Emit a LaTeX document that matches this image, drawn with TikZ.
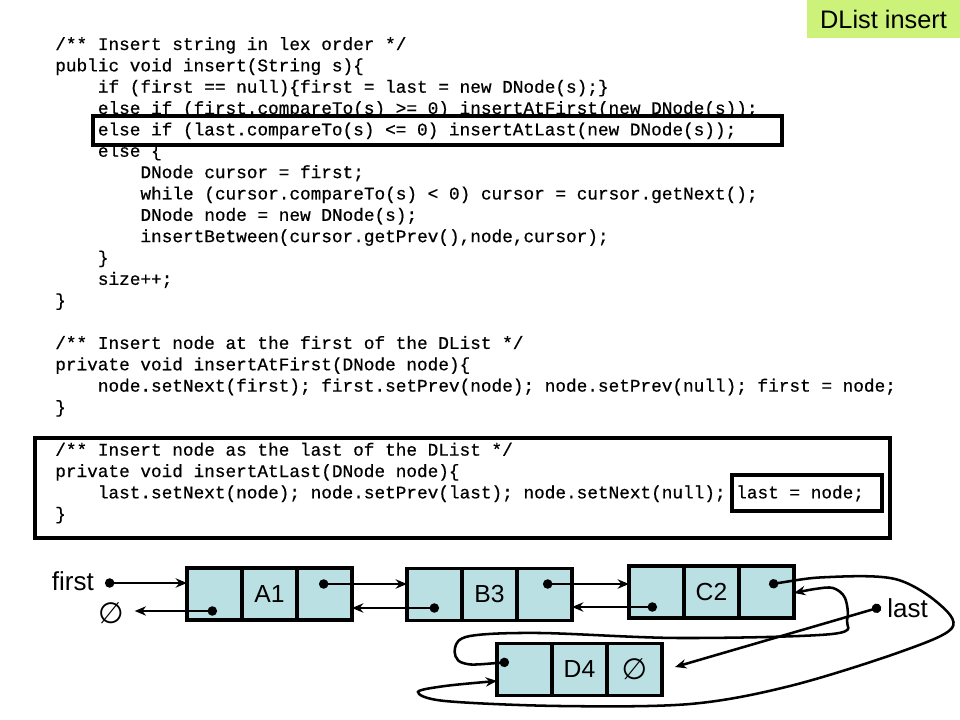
\documentclass[tikz,border=0pt]{standalone}
\usepackage{fontspec}
\setmainfont{Liberation Sans}
\newfontfamily\codefont[FakeBold=0.6]{Liberation Mono}
\newfontfamily\symfont{DejaVu Sans}
\usetikzlibrary{arrows.meta, positioning, calc}
\definecolor{cellblue}{RGB}{187,224,227}
\definecolor{titlegreen}{RGB}{204,242,122}
\newcommand{\emptyptr}{{\symfont\itshape\fontsize{22}{22}\selectfont ∅}}
\tikzset{
  cell/.style={draw, line width=2.4pt, fill=cellblue, minimum width=41.25pt, minimum height=39pt, inner sep=0pt, outer sep=0pt, font=\fontsize{18.5}{18.5}\selectfont},
  code/.style={anchor=base west, inner sep=0pt, font=\codefont\fontsize{13.3}{16}\selectfont},
  lbl/.style={inner sep=0pt, font=\fontsize{19.5}{20}\selectfont},
  ptr/.style={line width=1.9pt, {Circle[length=7pt]}-{Stealth[length=8.5pt,width=7pt]}},
  hilite/.style={line width=2.3pt}
}
\begin{document}
\begin{tikzpicture}[x=0.75pt, y=-0.75pt, line cap=round]
\useasboundingbox (0,0) rectangle (960,720);
\node[fill=titlegreen, minimum width=114.75pt, minimum height=28.5pt, inner sep=0pt, font=\fontsize{19}{19}\selectfont] (title) at (883.5,19) {DList insert};

% code of insert
\node[code] (c0) at (55,50) {/** Insert string in lex order */};
\node[code] (c1) at (55,71.35) {public void insert(String s)\{};
\node[code] (c2) at (97.6,92.7) {if (first == null)\{first = last = new DNode(s);\}};
\node[code] (c3) at (97.6,114.05) {else if (first.compareTo(s) >= 0) insertAtFirst(new DNode(s));};
\node[code] (c4) at (97.6,135.4) {else if (last.compareTo(s) <= 0) insertAtLast(new DNode(s));};
\node[code] (c5) at (97.6,156.75) {else \{};
\node[code] (c6) at (140.2,178.1) {DNode cursor = first;};
\node[code] (c7) at (140.2,199.45) {while (cursor.compareTo(s) < 0) cursor = cursor.getNext();};
\node[code] (c8) at (140.2,220.8) {DNode node = new DNode(s);};
\node[code] (c9) at (140.2,242.15) {insertBetween(cursor.getPrev(),node,cursor);};
\node[code] (c10) at (97.6,263.5) {\}};
\node[code] (c11) at (97.6,284.85) {size++;};
\node[code] (c12) at (55,306.2) {\}};

\node[code] (c14) at (55,348.9) {/** Insert node at the first of the DList */};
\node[code] (c15) at (55,370.25) {private void insertAtFirst(DNode node)\{};
\node[code] (c16) at (97.6,391.6) {node.setNext(first); first.setPrev(node); node.setPrev(null); first = node;};
\node[code] (c17) at (55,412.95) {\}};

\node[code] (c19) at (55,455.65) {/** Insert node as the last of the DList */};
\node[code] (c20) at (55,477) {private void insertAtLast(DNode node)\{};
\node[code] (c21) at (97.6,498.35) {last.setNext(node); node.setPrev(last); node.setNext(null); last = node;};
\node[code] (c22) at (55,519.7) {\}};

\draw[hilite] (93,116) rectangle (782,145);
\draw[hilite] (35,438) rectangle (890,538);
\draw[hilite] (732,475) rectangle (882,511);

% list nodes
\node[cell] (Ap) at (214.5,594) {};
\node[cell, right=0pt of Ap] (Ad) {A1};
\node[cell, right=0pt of Ad] (An) {};
\node[cell] (Bp) at (434.5,594.5) {};
\node[cell, right=0pt of Bp] (Bd) {B3};
\node[cell, right=0pt of Bd] (Bn) {};
\node[cell] (Cp) at (656.5,592) {};
\node[cell, right=0pt of Cp] (Cd) {C2};
\node[cell, right=0pt of Cd] (Cn) {};
\node[cell] (Dp) at (524.5,669.5) {};
\node[cell, right=0pt of Dp] (Dd) {D4};
\node[cell, right=0pt of Dd] (Dn) {\emptyptr};

\node[lbl, anchor=base east] (firstlbl) at (94,590) {first};
\node[lbl, inner xsep=8pt] (nulA) at (111,613) {\emptyptr};
\node[lbl, anchor=base west] (lastlbl) at (887,617) {last};

\coordinate (fdot) at (105,583);
\coordinate (apdot) at (217,611);
\coordinate (andot) at (319,584);
\coordinate (bpdot) at (439,608);
\coordinate (bndot) at (543,584);
\coordinate (cpdot) at (657,607);
\coordinate (cndot) at (769,584.5);
\coordinate (dpdot) at (509,662);
\coordinate (ldot) at (881,607);

\draw[ptr] (fdot) -- (fdot -| Ap.west);
\draw[ptr] (apdot) -- (apdot -| nulA.east);
\draw[ptr] (andot) -- (andot -| Bp.west);
\draw[ptr] (bpdot) -- (bpdot -| An.east);
\draw[ptr] (bndot) -- (bndot -| Cp.west);
\draw[ptr] (cpdot) -- (cpdot -| Bn.east);
\draw[ptr] plot[smooth, tension=0.55] coordinates {(cndot) (830,577) (895,579) (938,603) (952,628) (900,652) (790,686) (690,704) (560,706) (445,701) (418,692) (445,686) (Dp.west |- 0,681)};
\draw[ptr] plot[smooth, tension=0.55] coordinates {(dpdot) (463,663) (455,648) (470,636) (540,633) (680,638) (832,634) (847,620) (845,598) (833,588) (815,589) (Cn.east |- 0,593)};
\draw[ptr] (ldot) -- ($(Dn.east)+(13,-2.5)$);
\end{tikzpicture}
\end{document}
